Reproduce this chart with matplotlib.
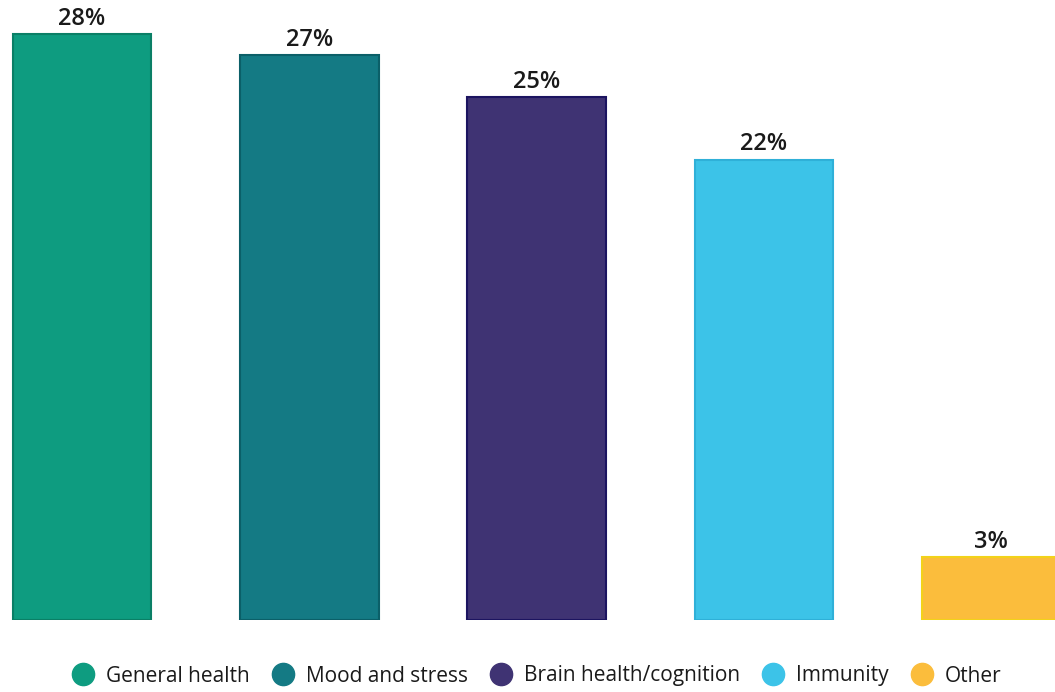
import matplotlib
matplotlib.use("Agg")
import matplotlib.pyplot as plt
from matplotlib.lines import Line2D

categories = ["General health", "Mood and stress", "Brain health/cognition", "Immunity", "Other"]
values = [28, 27, 25, 22, 3]
colors = ["#0E9C80", "#147A84", "#3F3373", "#3CC3E8", "#FBBD3C"]
edges = ["#0A7F66", "#0B5F68", "#1C1460", "#2FB0D8", "#F2D21A"]

plt.rcParams["font.family"] = ["Open Sans", "DejaVu Sans"]

W, H = 1055, 692
fig = plt.figure(figsize=(W / 100, H / 100), dpi=100)
fig.patch.set_facecolor("white")

bottom_px = 620
ax = fig.add_axes([0, 1 - bottom_px / H, 1, bottom_px / H])
ax.set_xlim(-0.36, 4.28)
ax.set_ylim(0, 29.62)
ax.axis("off")

x = range(len(values))
bars = ax.bar(x, values, width=0.61, color=colors, edgecolor=edges, linewidth=1.5)
for xi, v in zip(x, values):
    ax.text(xi, v + 0.15, f"{v}%", ha="center", va="bottom", fontsize=17,
            fontweight="semibold", color="#1a1a1a", clip_on=False)

handles = [Line2D([], [], linestyle="none", marker="o", markersize=16,
                  markerfacecolor=c, markeredgecolor=c) for c in colors]
fig.legend(handles, categories, loc="center", bbox_to_anchor=(536 / W, 1 - 676 / H),
           ncol=5, frameon=False, fontsize=15, handletextpad=0.5,
           columnspacing=1.0, handlelength=1.2, labelcolor="#1a1a1a")

fig.savefig("out.png", dpi=100, facecolor="white")
